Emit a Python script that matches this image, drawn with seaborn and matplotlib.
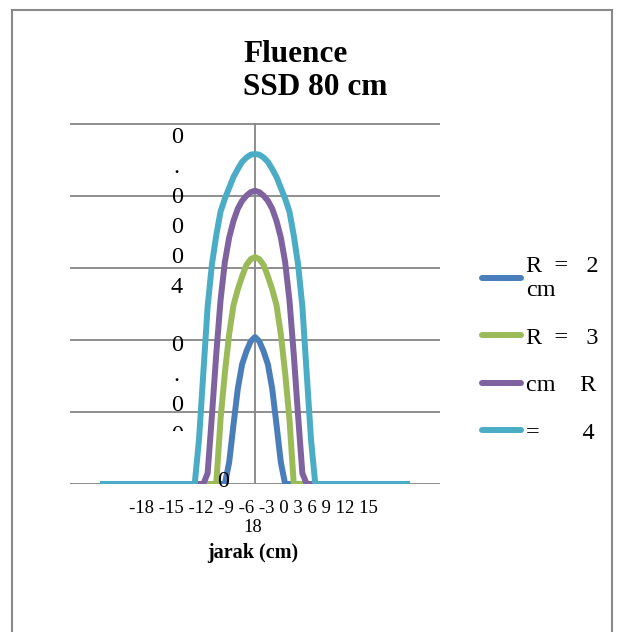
import numpy as np
import pandas as pd
import matplotlib
matplotlib.use("Agg")
import matplotlib.pyplot as plt
import matplotlib.transforms as mtransforms
from matplotlib.patches import Rectangle
from matplotlib.lines import Line2D
import seaborn as sns

# jarak (cm) and fluence values (units of 1e-4)
jarak = [-18, -8, -7.5, -7, -6.5, -6, -5.5, -5, -4.5, -4, -3.5, -3, -2.5, -2, -1.5, -1, -0.5, 0,
         0.5, 1, 1.5, 2, 2.5, 3, 3.5, 4, 4.5, 5, 5.5, 6, 6.5, 7, 7.5, 8, 18]

r2 = [0, 0, 0, 0, 0, 0, 0, 0, 0, 0, 0, 0.30, 0.82, 1.32, 1.66, 1.84, 1.98, 2.04,
      1.98, 1.84, 1.66, 1.32, 0.82, 0.30, 0, 0, 0, 0, 0, 0, 0, 0, 0, 0, 0]
r3 = [0, 0, 0, 0, 0, 0, 0, 0, 0, 0.90, 1.54, 2.08, 2.48, 2.70, 2.88, 3.04, 3.12, 3.15,
      3.12, 3.04, 2.88, 2.70, 2.48, 2.08, 1.54, 0.90, 0, 0, 0, 0, 0, 0, 0, 0, 0]
r4 = [0, 0, 0, 0, 0, 0, 0.15, 0.95, 1.80, 2.55, 3.08, 3.42, 3.65, 3.82, 3.93, 4.00, 4.05, 4.07,
      4.05, 4.00, 3.93, 3.82, 3.65, 3.42, 3.08, 2.55, 1.80, 0.95, 0.15, 0, 0, 0, 0, 0, 0]
r5 = [0, 0, 0, 0, 0.62, 1.54, 2.46, 3.05, 3.45, 3.78, 3.96, 4.11, 4.26, 4.37, 4.47, 4.53, 4.57, 4.58,
      4.57, 4.53, 4.47, 4.37, 4.26, 4.11, 3.96, 3.78, 3.45, 3.05, 2.46, 1.54, 0.62, 0, 0, 0, 0]

series_names = ["R = 2 cm", "R = 3 cm", "R = 4 cm", "R = 5 cm"]
legend_labels = ["R  =   2\ncm", "R  =   3", "cm    R", "=       4"]
colors = ["#4A7EBB", "#9BBB59", "#7F62A0", "#4BACC6"]

x_tick_labels = ["-18", "-15", "-12", "-9", "-6", "-3", "0", "3", "6", "9", "12", "15", "18"]
y_tick_labels = ["0", "0.0002", "0.0004"]

# long table for seaborn
rows = []
for name, vals in zip(series_names, [r2, r3, r4, r5]):
    for x, v in zip(jarak, vals):
        rows.append({"jarak": x, "fluence": v * 1e-4, "seri": name})
df = pd.DataFrame(rows)

sns.set_style("white")
plt.rcParams["font.family"] = ["Liberation Serif", "DejaVu Serif"]
plt.rcParams["text.color"] = "black"

W, H = 622, 632
fig = plt.figure(figsize=(W / 100, H / 100), dpi=100)
ax = fig.add_axes([70 / W, 1 - 484 / H, 370 / W, (484 - 123) / H])

sns.lineplot(data=df, x="jarak", y="fluence", hue="seri", palette=colors,
             linewidth=4.3, sort=False, estimator=None, legend=False, ax=ax)
for ln in ax.lines:
    ln.set_solid_capstyle("butt")
    ln.set_solid_joinstyle("round")

ax.set_xlim(-21.48, 21.48)
ax.set_ylim(0, 5.01e-4)
ax.set_yticks(np.arange(6) * 1e-4)
ax.set_yticklabels([])
ax.set_xticks([])
ax.tick_params(length=0)
ax.yaxis.grid(True, color="#868686", lw=1.3)
ax.set_axisbelow(True)
ax.axvline(0, color="#868686", lw=1.3, zorder=0.5)
for s in ax.spines.values():
    s.set_visible(False)
ax.set_xlabel("")
ax.set_ylabel("")

# broken vertical y tick labels, as in the picture
trans = mtransforms.blended_transform_factory(ax.transAxes, ax.transData)
stack = lambda s: "\n".join(list(s))
ax.text(0.289, 3.77e-4, stack(y_tick_labels[2]), transform=trans, ha="center", va="center",
        fontsize=17.5, linespacing=1.56)
t2 = ax.text(0.289, 0.88e-4, stack(y_tick_labels[1]), transform=trans, ha="center", va="center",
             fontsize=17.5, linespacing=1.56, clip_on=True)
t2.set_clip_box(mtransforms.TransformedBbox(
    mtransforms.Bbox.from_extents(0, 0.73e-4, 1, 6e-4), trans))
ax.text(0.414, 0.04e-4, y_tick_labels[0], transform=trans, ha="center", va="center",
        fontsize=17.5, zorder=5)

# x tick labels and axis title
fig.text(253 / W, 1 - 518 / H, " ".join(x_tick_labels[:-1]) + "\n" + x_tick_labels[-1],
         ha="center", va="center", fontsize=13.5, linespacing=1.2)
fig.text(253 / W, 1 - 553 / H, "jarak (cm)", ha="center", va="center",
         fontsize=14.5, fontweight="bold")

# title
fig.text(243 / W, 1 - 71 / H, "Fluence\nSSD 80 cm", ha="left", va="center",
         fontsize=22.5, fontweight="bold", linespacing=1.2)

# legend
handles = [Line2D([], [], color=c, lw=4.3) for c in colors]
ax.legend(handles, legend_labels, loc="upper left", bbox_to_anchor=(482 / W, 1 - 256 / H),
          bbox_transform=fig.transFigure, frameon=False, fontsize=17.5, labelcolor="black",
          handlelength=1.6, handletextpad=0.2, labelspacing=1.05, borderpad=0, borderaxespad=0)

# outer chart border
fig.add_artist(Rectangle((12 / W, -0.05), 600 / W, 1 - 10 / H + 0.05, transform=fig.transFigure,
                         fill=False, edgecolor="#898989", lw=1.5))

fig.savefig("out.png", dpi=100)
